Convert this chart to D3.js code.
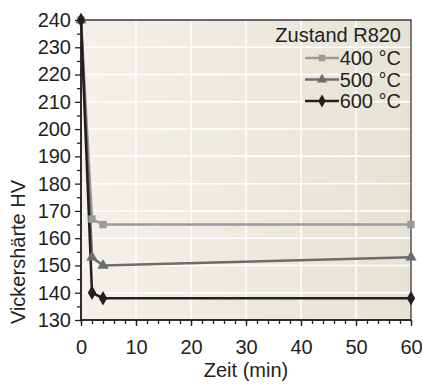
<!DOCTYPE html>
<html><head><meta charset="utf-8">
<script src="https://cdn.jsdelivr.net/npm/d3@7"></script>
<style>body{margin:0;background:#fff}svg{display:block;font-family:"Liberation Sans",Arial,sans-serif}</style>
</head><body>
<script>
const times = [0, 2, 4, 60];
const hv400 = [240, 167, 165, 165];
const hv500 = [240, 153, 150, 153];
const hv600 = [240, 140, 138, 138];
const seriesNames = ["400 °C", "500 °C", "600 °C"];
const xTicks = [0, 10, 20, 30, 40, 50, 60];
const yTicks = [130, 140, 150, 160, 170, 180, 190, 200, 210, 220, 230, 240];

const W = 423, H = 385;
const m = {l: 81, r: 12, t: 20, b: 65};
const svg = d3.select("body").append("svg").attr("width", W).attr("height", H);
const x = d3.scaleLinear().domain([0, 60]).range([m.l, W - m.r]);
const y = d3.scaleLinear().domain([130, 240]).range([H - m.b, m.t]);

const defs = svg.append("defs");
const grad = defs.append("linearGradient").attr("id", "bg").attr("x1", "0").attr("x2", "1").attr("y1", "0").attr("y2", "0");
grad.append("stop").attr("offset", "0").attr("stop-color", "#f4f1ea");
grad.append("stop").attr("offset", "1").attr("stop-color", "#e6e2d6");

svg.append("rect").attr("x", x(0)).attr("y", y(240)).attr("width", x(60) - x(0)).attr("height", y(130) - y(240)).attr("fill", "url(#bg)");

// grid
svg.append("g").selectAll("line").data(xTicks.slice(1, -1)).join("line")
  .attr("x1", d => x(d)).attr("x2", d => x(d)).attr("y1", y(240)).attr("y2", y(130))
  .attr("stroke", "#fff").attr("stroke-width", 1.5);
svg.append("g").selectAll("line").data(yTicks.slice(1, -1)).join("line")
  .attr("x1", x(0)).attr("x2", x(60)).attr("y1", d => y(d)).attr("y2", d => y(d))
  .attr("stroke", "#fff").attr("stroke-width", 1.5);

// frame top/right
svg.append("path").attr("d", `M${x(0)},${y(240)}H${x(60)}V${y(130)}`).attr("fill", "none").attr("stroke", "#3a3a3a").attr("stroke-width", 1.3);

// axes
const fs = 20;
const xAxisMinor = d3.axisBottom(x).tickValues(d3.range(0, 61, 2)).tickSize(4).tickFormat("");
const gxm = svg.append("g").attr("transform", `translate(0,${y(130)})`).call(xAxisMinor);
const xAxis = d3.axisBottom(x).tickValues(xTicks).tickSize(6).tickPadding(14).tickFormat(d3.format("d"));
const gx = svg.append("g").attr("transform", `translate(0,${y(130)})`).call(xAxis);
const yAxisMinor = d3.axisLeft(y).tickValues(d3.range(135, 240, 10)).tickSize(4).tickFormat("");
const gym = svg.append("g").attr("transform", `translate(${x(0)},0)`).call(yAxisMinor);
const yAxis = d3.axisLeft(y).tickValues(yTicks).tickSize(6).tickPadding(4).tickFormat(d3.format("d"));
const gy = svg.append("g").attr("transform", `translate(${x(0)},0)`).call(yAxis);
[gx, gy, gxm, gym].forEach(g => {
  g.select(".domain").attr("stroke", "#231f20").attr("stroke-width", 1.5);
  g.selectAll(".tick line").attr("stroke", "#231f20").attr("stroke-width", 1.3);
  g.selectAll("text").attr("font-size", fs).attr("fill", "#231f20").attr("font-family", "Liberation Sans, Arial, sans-serif");
});
gxm.select(".domain").attr("d", `M${x(0)},0H${x(60)}`);
gym.select(".domain").attr("d", `M0,${y(130)}V${y(240)}`);
gx.select(".domain").attr("d", `M${x(0)},0H${x(60)}`);
gy.select(".domain").attr("d", `M0,${y(130)}V${y(240)}`);

svg.append("text").attr("x", (x(0) + x(60)) / 2).attr("y", 377).attr("text-anchor", "middle")
  .attr("font-size", fs).attr("fill", "#231f20").text("Zeit (min)");
svg.append("text").attr("transform", `translate(25,${252}) rotate(-90)`).attr("text-anchor", "middle")
  .attr("font-size", fs).attr("fill", "#231f20").text("Vickershärte HV");

// series
const colors = ["#9a9b9d", "#6b6c6e", "#231f20"];
const data = [hv400, hv500, hv600];
const shapes = [d3.symbolSquare, d3.symbolTriangle, d3.symbolDiamond];
const sizes = [55, 55, 60];
const line = d3.line().x((d, i) => x(times[i])).y(d => y(d));
data.forEach((s, k) => {
  svg.append("path").datum(s).attr("d", line).attr("fill", "none").attr("stroke", colors[k]).attr("stroke-width", 2.5);
});
data.forEach((s, k) => {
  svg.append("g").selectAll("path").data(s).join("path")
    .attr("transform", (d, i) => `translate(${x(times[i])},${y(d)})`)
    .attr("d", d3.symbol().type(shapes[k]).size(sizes[k])).attr("fill", colors[k]);
});

// legend
const lx2 = 401;
svg.append("text").attr("x", lx2).attr("y", 42).attr("text-anchor", "end").attr("font-size", fs).attr("fill", "#231f20").text("Zustand R820");
seriesNames.forEach((n, k) => {
  const ly = 58 + k * 21.5;
  svg.append("line").attr("x1", 305).attr("x2", 339).attr("y1", ly).attr("y2", ly).attr("stroke", colors[k]).attr("stroke-width", 2.5);
  svg.append("path").attr("transform", `translate(322,${ly})`).attr("d", d3.symbol().type(shapes[k]).size(sizes[k] * 0.8)).attr("fill", colors[k]);
  svg.append("text").attr("x", lx2).attr("y", ly + 7).attr("text-anchor", "end").attr("font-size", fs).attr("fill", "#231f20").text(n);
});
</script>
</body></html>
